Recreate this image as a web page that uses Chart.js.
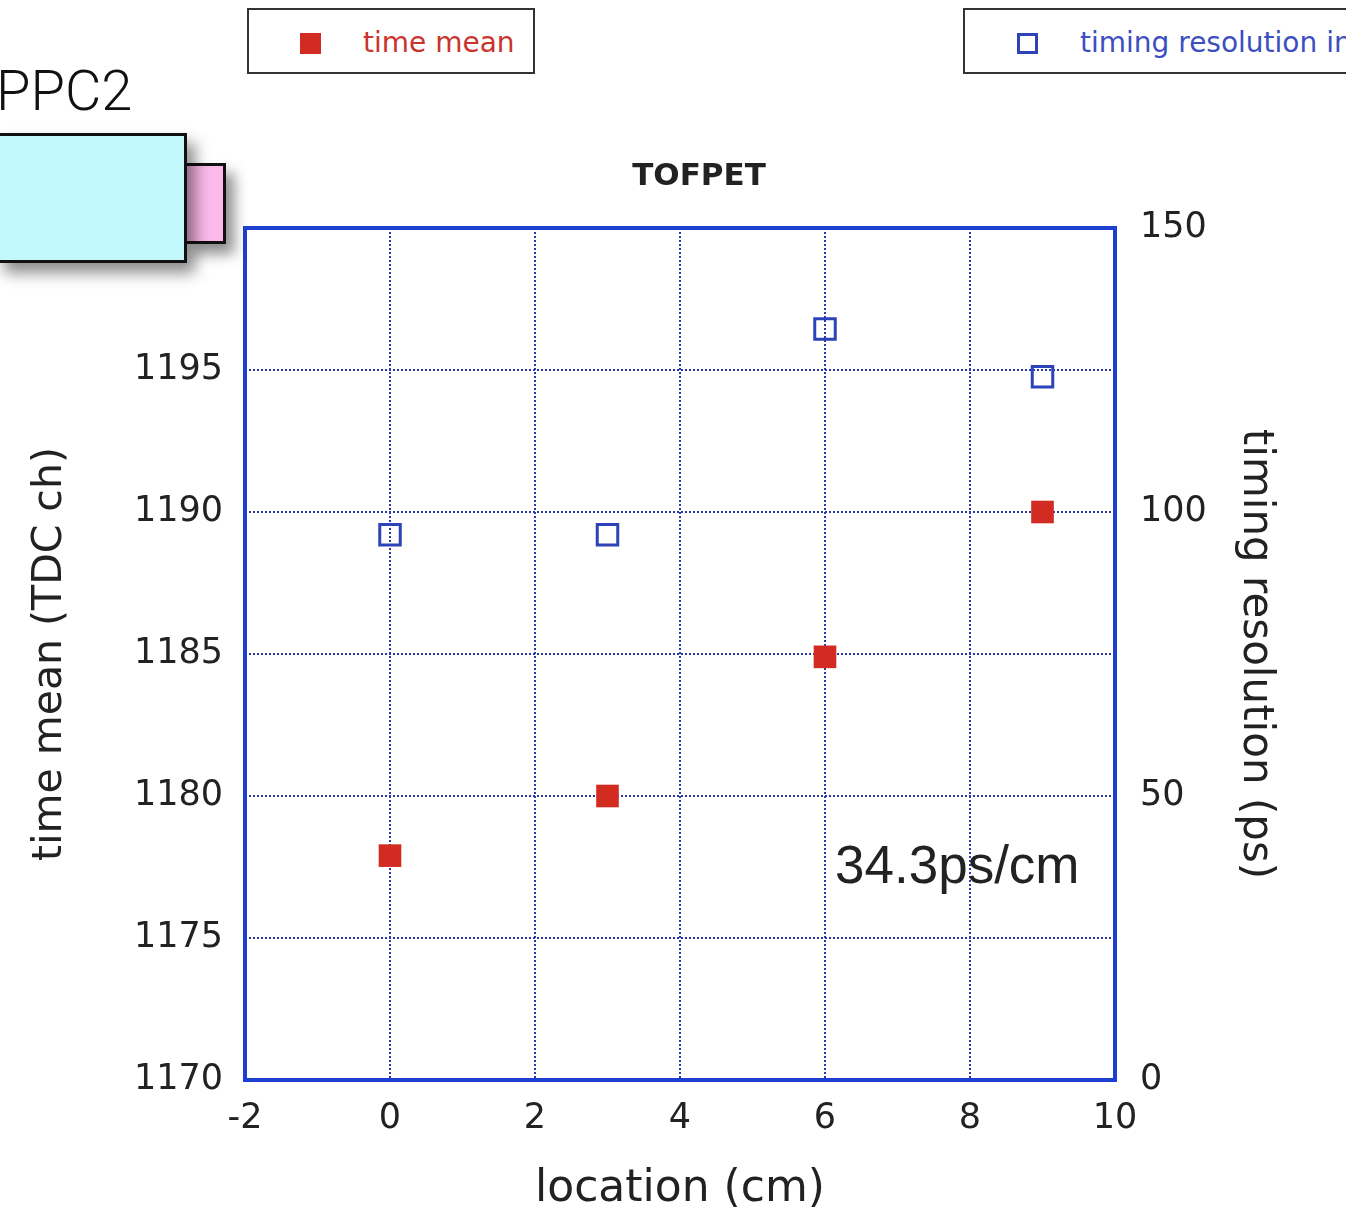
<!DOCTYPE html>
<html>
<head>
<meta charset="utf-8">
<script src="https://cdn.jsdelivr.net/npm/chart.js@4.4.1/dist/chart.umd.min.js"></script>
<style>
  html, body { margin: 0; padding: 0; background: #fff; }
  body { width: 1346px; height: 1216px; overflow: hidden; position: relative; font-family: "DejaVu Sans", sans-serif; }
  #chart { position: absolute; left: 0; top: 0; }
  .legend { position: absolute; top: 8px; height: 66px; border: 2px solid #333; box-sizing: border-box; background: #fff; font-size: 28px; line-height: 66px; white-space: nowrap; overflow: hidden; }
  .legend .mark { position: absolute; top: 23px; width: 21px; height: 21px; box-sizing: border-box; }
  .legend .txt { position: absolute; top: 0; }
  #ppc { position: absolute; left: -4px; top: 58px; font: 300 56px Roboto, "Open Sans", sans-serif; color: #111; }
  #box1 { position: absolute; left: -4px; top: 133px; width: 191px; height: 130px; background: #c3f8fc; border: 3px solid #111; box-sizing: border-box; box-shadow: 8px 10px 14px rgba(0,0,0,0.45); z-index: 2; }
  #box2 { position: absolute; left: 184px; top: 163px; width: 42px; height: 81px; background: #fcb9ea; border: 3px solid #111; box-sizing: border-box; box-shadow: 8px 10px 14px rgba(0,0,0,0.45); z-index: 1; }
  #title { position: absolute; left: 599px; width: 200px; text-align: center; top: 156px; font: bold 31px "DejaVu Sans", sans-serif; color: #222; }
  #note { position: absolute; left: 835px; top: 834px; font: 53px "Liberation Sans", sans-serif; color: #222; }
</style>
</head>
<body>
<canvas id="chart" width="1346" height="1216"></canvas>

<div id="ppc">PPC2</div>
<div id="box1"></div>
<div id="box2"></div>

<div class="legend" style="left:247px; width:288px;">
  <div class="mark" style="left:51px; background:#d22b22;"></div>
  <div class="txt" style="left:114px; color:#c9342c;">time mean</div>
</div>
<div class="legend" style="left:963px; width:420px;">
  <div class="mark" style="left:52px; border:3px solid #2d43b8;"></div>
  <div class="txt" style="left:115px; color:#3b4fc0;">timing resolution in (ps)</div>
</div>

<div id="title">TOFPET</div>
<div id="note">34.3ps/cm</div>

<script>
// data
const locations = [0, 3, 6, 9];
const timeMean = [1177.9, 1180.0, 1184.9, 1190.0];
const timingRes = [96.0, 96.0, 132.2, 123.8];

const xTicks = [-2, 0, 2, 4, 6, 8, 10];
const leftTicks = [1170, 1175, 1180, 1185, 1190, 1195];
const rightTicks = [0, 50, 100, 150];

const blue = '#1c3fd0';
const gridBlue = '#2a3aa8';

// solid frame round the plot area
const framePlugin = {
  id: 'frame',
  afterDraw(chart) {
    const { ctx, chartArea: a } = chart;
    ctx.save();
    ctx.strokeStyle = blue;
    ctx.lineWidth = 4;
    ctx.strokeRect(a.left, a.top, a.right - a.left, a.bottom - a.top);
    ctx.restore();
  }
};

const tickFont = { family: 'DejaVu Sans', size: 35 };

new Chart(document.getElementById('chart'), {
  type: 'scatter',
  data: {
    datasets: [
      {
        label: 'time mean',
        data: locations.map((x, i) => ({ x, y: timeMean[i] })),
        yAxisID: 'y',
        pointStyle: 'rect',
        pointRadius: 16,
        pointHoverRadius: 16,
        backgroundColor: '#d22b22',
        borderColor: '#d22b22',
        borderWidth: 0
      },
      {
        label: 'timing resolution',
        data: locations.map((x, i) => ({ x, y: timingRes[i] })),
        yAxisID: 'y2',
        pointStyle: 'rect',
        pointRadius: 14.5,
        pointHoverRadius: 14.5,
        backgroundColor: 'rgba(0,0,0,0)',
        borderColor: '#2d43b8',
        borderWidth: 3
      }
    ]
  },
  options: {
    responsive: false,
    devicePixelRatio: 1,
    animation: false,
    layout: { padding: { left: 22, right: 62, top: 228, bottom: 0 } },
    plugins: { legend: { display: false }, tooltip: { enabled: false } },
    scales: {
      x: {
        type: 'linear',
        min: -2,
        max: 10,
        afterBuildTicks(scale) { scale.ticks = xTicks.map(v => ({ value: v })); },
        afterFit(scale) { scale.height = 136; },
        ticks: { font: tickFont, color: '#222', padding: 18, maxRotation: 0 },
        grid: { color: gridBlue, lineWidth: 2, drawTicks: false },
        border: { display: false, dash: [2, 2] },
        title: { display: true, text: 'location (cm)', color: '#222', font: { family: 'DejaVu Sans', size: 44 }, padding: { top: 4, bottom: 0 } }
      },
      y: {
        position: 'left',
        min: 1170,
        max: 1200,
        afterBuildTicks(scale) { scale.ticks = leftTicks.concat([1200]).map(v => ({ value: v })); },
        afterFit(scale) { scale.width = 223; },
        ticks: {
          font: tickFont, color: '#222', padding: 22,
          callback: v => (leftTicks.includes(v) ? String(v) : '')
        },
        grid: { color: gridBlue, lineWidth: 2, drawTicks: false },
        border: { display: false, dash: [2, 2] },
        title: { display: true, text: 'time mean (TDC ch)', color: '#222', font: { family: 'DejaVu Sans', size: 41 } }
      },
      y2: {
        position: 'right',
        min: 0,
        max: 150,
        afterBuildTicks(scale) { scale.ticks = rightTicks.map(v => ({ value: v })); },
        afterFit(scale) { scale.width = 169; },
        ticks: { font: tickFont, color: '#222', padding: 25 },
        grid: { display: false, drawTicks: false },
        border: { display: false },
        title: { display: true, text: 'timing resolution (ps)', color: '#222', font: { family: 'DejaVu Sans', size: 42 } }
      }
    }
  },
  plugins: [framePlugin]
});
</script>
</body>
</html>
